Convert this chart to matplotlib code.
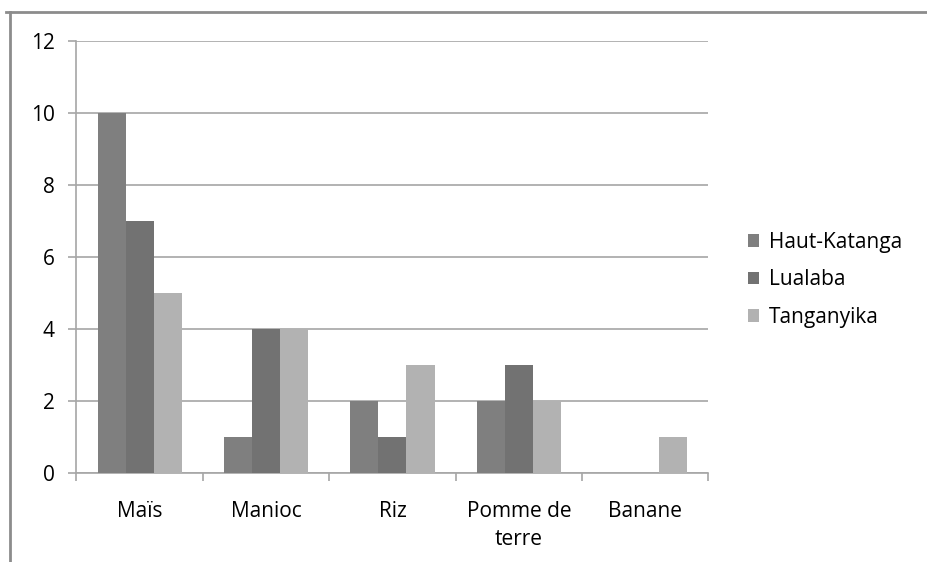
import matplotlib.pyplot as plt
from matplotlib.lines import Line2D
import numpy as np

plt.rcParams['font.family'] = ['Open Sans', 'DejaVu Sans']

# Cultures par province
cultures = ["Maïs", "Manioc", "Riz", "Pomme de\nterre", "Banane"]
provinces = ["Haut-Katanga", "Lualaba", "Tanganyika"]
haut_katanga = [10, 1, 2, 2, 0]
lualaba = [7, 4, 1, 3, 0]
tanganyika = [5, 4, 3, 2, 1]
yticks = [0, 2, 4, 6, 8, 10, 12]

series = [haut_katanga, lualaba, tanganyika]
colors = ["#7f7f7f", "#727272", "#b2b2b2"]
fs = 15

fig = plt.figure(figsize=(9.28, 5.62), dpi=100)
ax = fig.add_axes([0.0824, 0.158, 0.681, 0.769])

x = np.arange(len(cultures))
w = 1 / 4.5
for i, (vals, c, name) in enumerate(zip(series, colors, provinces)):
    ax.bar(x + (i - 1) * w, vals, width=w, color=c, label=name, zorder=3)

ax.set_xlim(-0.5, len(cultures) - 0.5)
ax.set_ylim(0, 12)
ax.set_yticks(yticks)
ax.yaxis.grid(True, color="#a6a6a6", linewidth=1.2, zorder=0)
ax.set_xticks(x)
ax.set_xticklabels(cultures, fontsize=fs, linespacing=1.45, color="black")
ax.tick_params(axis="x", length=0, pad=20)
ax.tick_params(axis="y", length=5.5, width=1.2, color="#a6a6a6",
               labelsize=fs, labelcolor="black", pad=10)
# ticks between categories
ax.set_xticks(np.arange(-0.5, len(cultures)), minor=True)
ax.tick_params(axis="x", which="minor", length=6, width=1.2, color="#a6a6a6")

for s in ["top", "right"]:
    ax.spines[s].set_visible(False)
for s in ["left", "bottom"]:
    ax.spines[s].set_color("#a6a6a6")
    ax.spines[s].set_linewidth(1.2)

fig.legend(loc="center left", bbox_to_anchor=(0.806, 0.502), frameon=False,
           fontsize=fs, handlelength=0.55, handleheight=0.55, handletextpad=0.45,
           labelspacing=0.8, borderaxespad=0, borderpad=0)

# cadre du graphique
fig.add_artist(Line2D([0.006, 1.0], [0.979, 0.979], color="#8c8c8c", linewidth=2))
fig.add_artist(Line2D([0.011, 0.011], [0.0, 0.979], color="#8c8c8c", linewidth=2))

fig.savefig("out.png", dpi=100)
